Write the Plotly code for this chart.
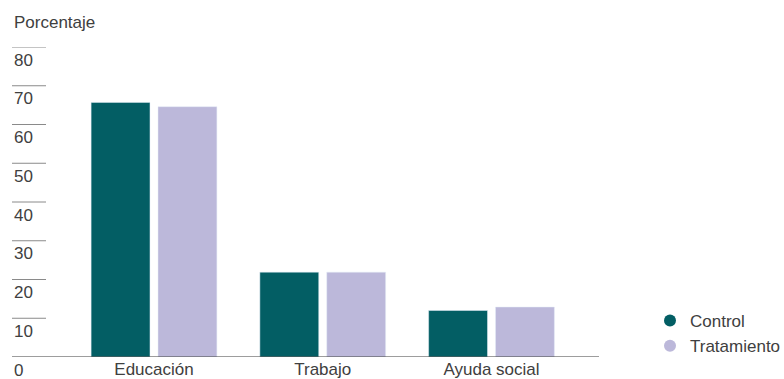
import plotly.graph_objects as go

CATEGORIES = ["Educación", "Trabajo", "Ayuda social"]
CONTROL = [65.7, 21.9, 12.0]
TRATAMIENTO = [64.6, 21.9, 12.9]
Y_TICKS = [10, 20, 30, 40, 50, 60, 70, 80]

CONTROL_COLOR = "#035e64"
TRAT_COLOR = "#bcb8da"
TEXT_COLOR = "#404040"
FONT = "Liberation Sans, Arial, sans-serif"

W, H = 784, 379
LEFT = 12
TOP, BOTTOM = 47, 357
AXIS_END = 599            # where the baseline stops (px)
plot_w = W - LEFT         # plot area runs to the right edge so the legend sits inside it
plot_h = BOTTOM - TOP
px_per_cat = 168.75
first_center = 154

x_lo = -(first_center - LEFT) / px_per_cat
x_hi = x_lo + plot_w / px_per_cat

fig = go.Figure()
fig.add_trace(go.Bar(x=CATEGORIES, y=CONTROL, name="Control",
                     marker_color=CONTROL_COLOR, showlegend=False))
fig.add_trace(go.Bar(x=CATEGORIES, y=TRATAMIENTO, name="Tratamiento",
                     marker_color=TRAT_COLOR, showlegend=False))

# circle markers for the legend
for name, color in [("Control", CONTROL_COLOR), ("Tratamiento", TRAT_COLOR)]:
    fig.add_trace(go.Scatter(x=[None], y=[None], mode="markers", name=name,
                             marker=dict(color=color, size=12, symbol="circle")))

shapes = [dict(type="line", xref="paper", yref="y", x0=0,
               x1=(AXIS_END - LEFT) / plot_w, y0=0, y1=0,
               line=dict(color="#3a3a3a", width=1))]
annotations = []
grid_x1 = (46 - LEFT) / plot_w
for v in Y_TICKS:
    shapes.append(dict(type="line", xref="paper", yref="y", x0=0, x1=grid_x1,
                       y0=v, y1=v, line=dict(color="#8a8a8a", width=1)))
for v in [0] + Y_TICKS:
    annotations.append(dict(text=str(v), xref="paper", yref="y", x=0, y=v,
                            xanchor="left", yanchor="middle", yshift=-13,
                            showarrow=False, font=dict(size=17, color=TEXT_COLOR)))
annotations.append(dict(text="Porcentaje", xref="paper", yref="paper", x=0, y=1,
                        xanchor="left", yanchor="middle", yshift=25,
                        showarrow=False, font=dict(size=17, color=TEXT_COLOR)))

fig.update_layout(
    width=W, height=H,
    margin=dict(l=LEFT, r=0, t=TOP, b=H - BOTTOM, pad=0, autoexpand=False),
    paper_bgcolor="white", plot_bgcolor="white",
    font=dict(family=FONT, size=17, color=TEXT_COLOR),
    barmode="group", bargap=0.207, bargroupgap=0.12,
    shapes=shapes, annotations=annotations,
    hovermode=False,
    legend=dict(x=(650 - LEFT) / plot_w, xanchor="left",
                y=-7 / plot_h, yanchor="bottom",
                font=dict(size=17, color=TEXT_COLOR), tracegroupgap=0,
                itemwidth=30, bgcolor="rgba(0,0,0,0)"),
    xaxis=dict(range=[x_lo, x_hi], showline=False, ticks="", showgrid=False,
               zeroline=False, automargin=False, ticklabelstandoff=0,
               tickfont=dict(size=17, color=TEXT_COLOR), fixedrange=True),
    yaxis=dict(range=[0, 80], showticklabels=False, showgrid=False,
               zeroline=False, showline=False, automargin=False, fixedrange=True),
)

fig.write_html("out.html", config={"displayModeBar": False},
               post_script="document.body.style.margin='0';")
